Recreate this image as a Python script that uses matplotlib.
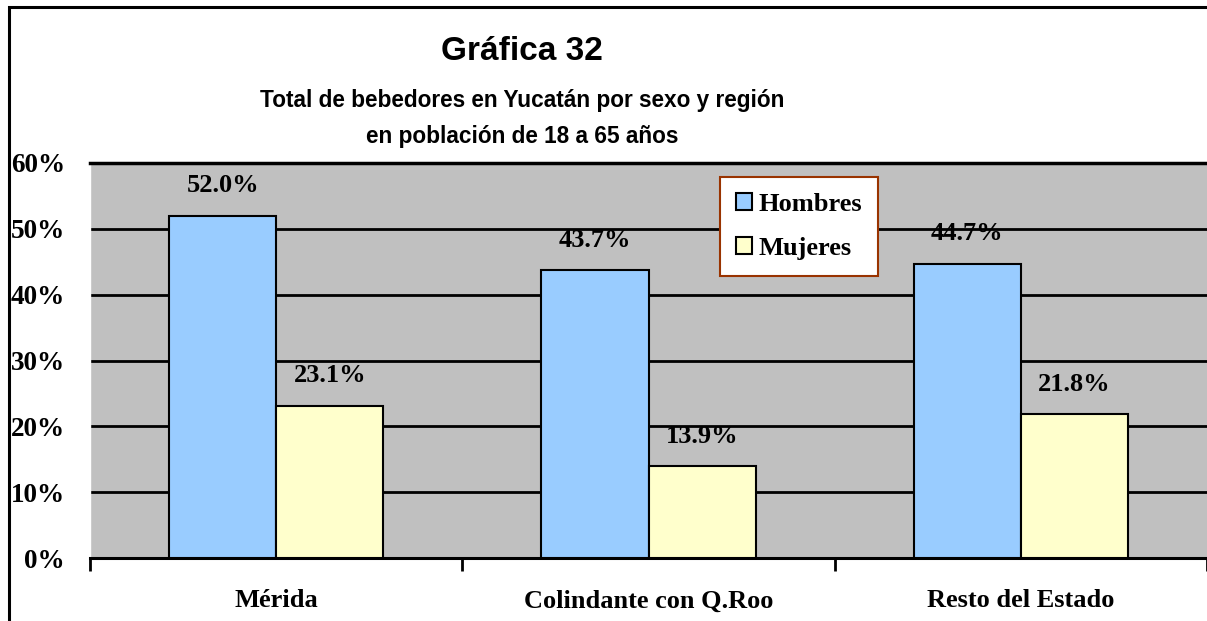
import numpy as np
import matplotlib.pyplot as plt
from matplotlib.patches import Rectangle

regiones = ["Mérida", "Colindante con Q.Roo", "Resto del Estado"]
hombres = [52.0, 43.7, 44.7]
mujeres = [23.1, 13.9, 21.8]
yticks = [0, 10, 20, 30, 40, 50, 60]

serif = "Liberation Serif"
sans = "Liberation Sans"

fig = plt.figure(figsize=(12.07, 6.21), dpi=100)
ax = fig.add_axes([90 / 1207, 1 - 558 / 621, (1207 - 90) / 1207, (558 - 163) / 621])

# marco exterior
fig.patches.append(Rectangle((9 / 1207, -0.1), 1.2, 1 - 7 / 621 + 0.1, transform=fig.transFigure,
                             fill=False, edgecolor="black", linewidth=2.2))

ax.set_facecolor("#c0c0c0")
x = np.arange(len(regiones))
w = 0.2875
b1 = ax.bar(x - w / 2, hombres, w, color="#99ccff", edgecolor="black", linewidth=1.5,
            label="Hombres", zorder=3)
b2 = ax.bar(x + w / 2, mujeres, w, color="#ffffcc", edgecolor="black", linewidth=1.5,
            label="Mujeres", zorder=3)

for bars, vals in ((b1, hombres), (b2, mujeres)):
    for r, v in zip(bars, vals):
        ax.text(r.get_x() + r.get_width() / 2, v + 4.6, "{:.1f}%".format(v),
                ha="center", va="center", fontsize=19, fontweight="bold", family=serif)

ax.set_xlim(-0.5, 2.5)
ax.set_ylim(0, 60)
ax.set_yticks(yticks)
ax.set_yticklabels(["{}%".format(t) for t in yticks], fontsize=19.5, fontweight="bold", family=serif)
ax.yaxis.grid(True, color="black", linewidth=2, zorder=1)
ax.set_axisbelow(True)
ax.tick_params(axis="y", length=0, pad=18)

ax.set_xticks([-0.5, 0.5, 1.5, 2.5])
ax.set_xticklabels([])
ax.tick_params(axis="x", length=9, width=2, direction="out")
for i, name in enumerate(regiones):
    ax.text(i, -6.5, name, ha="center", va="center", fontsize=19, fontweight="bold", family=serif)

ax.spines["right"].set_visible(False)
ax.spines["left"].set_color("white")
ax.spines["left"].set_linewidth(1)
ax.spines["bottom"].set_linewidth(2.2)
ax.spines["top"].set_linewidth(2.5)

leg = ax.legend(loc="upper left", bbox_to_anchor=((720 - 90) / 1117, 1 - (177 - 163) / 395),
                prop={"family": serif, "weight": "bold", "size": 19}, frameon=True, fancybox=False,
                handlelength=0.6, handleheight=0.6, handletextpad=0.25, labelspacing=0.8,
                borderpad=0.6, borderaxespad=0)
leg.get_frame().set_edgecolor("#993300")
leg.get_frame().set_linewidth(1.5)
leg.get_frame().set_alpha(1)

fig.text(522 / 1207, 1 - 52 / 621, "Gráfica 32", ha="center", va="center",
         fontsize=24, fontweight="bold", family=sans)
fig.text(522 / 1207, 1 - 100 / 621, "Total de bebedores en Yucatán por sexo y región",
         ha="center", va="center", fontsize=16.3, fontweight="bold", family=sans)
fig.text(522 / 1207, 1 - 137 / 621, "en población de 18 a 65 años",
         ha="center", va="center", fontsize=16.3, fontweight="bold", family=sans)

fig.savefig("out.png", dpi=100)
